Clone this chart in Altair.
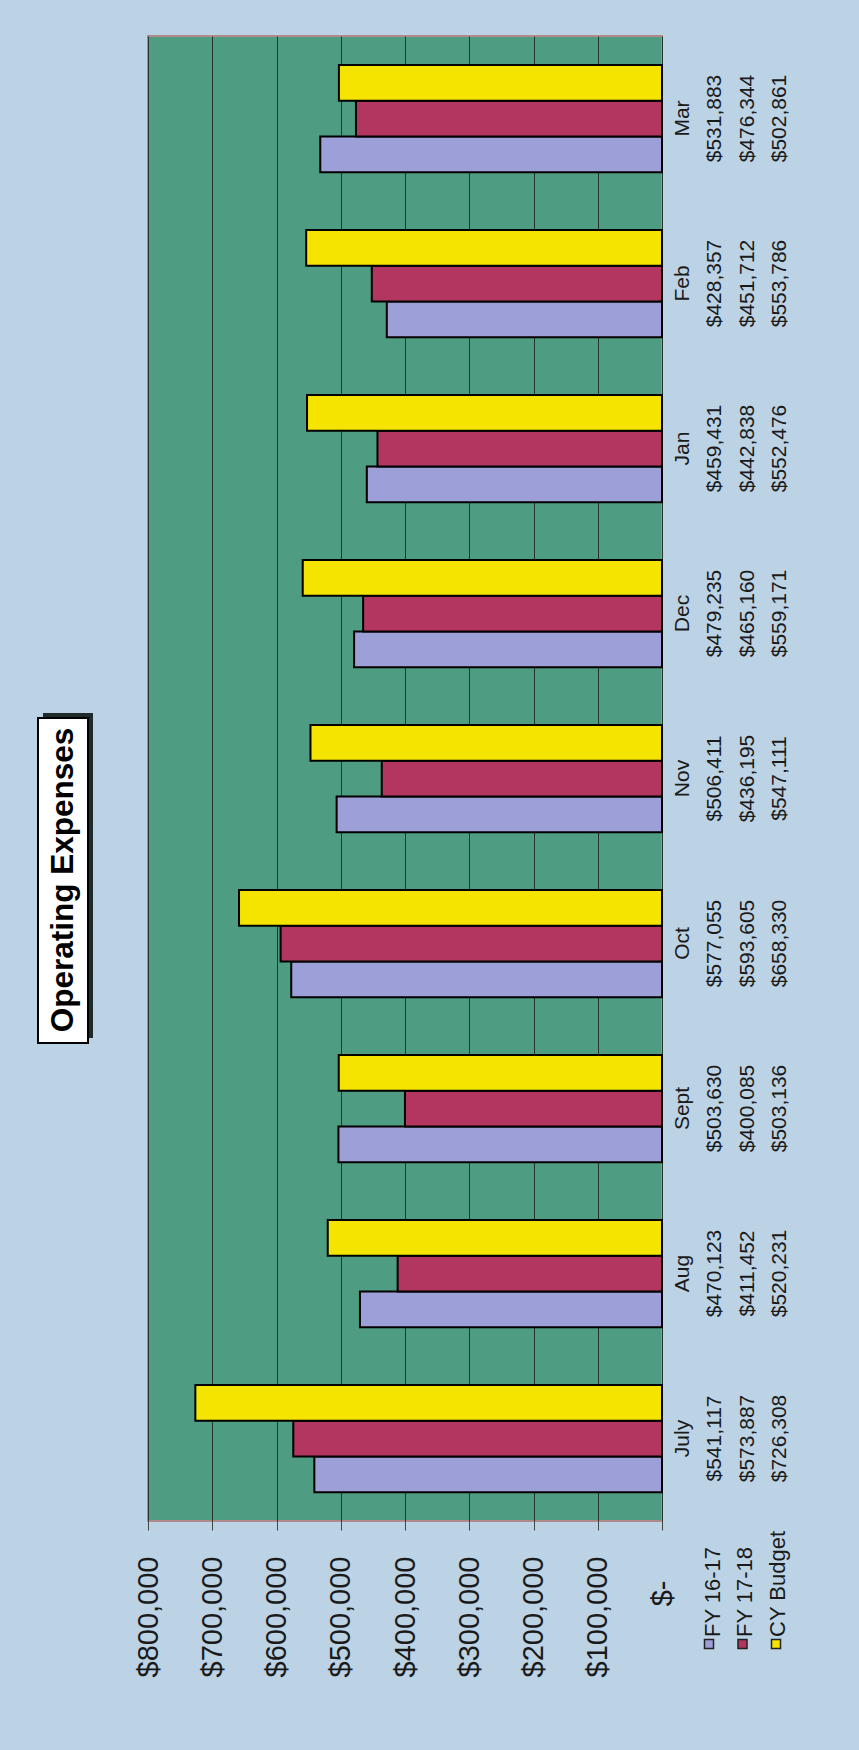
import altair as alt
import pandas as pd

months = ["July", "Aug", "Sept", "Oct", "Nov", "Dec", "Jan", "Feb", "Mar"]
series = ["FY 16-17", "FY 17-18", "CY Budget"]
fy1617 = [541117, 470123, 503630, 577055, 506411, 479235, 459431, 428357, 531883]
fy1718 = [573887, 411452, 400085, 593605, 436195, 465160, 442838, 451712, 476344]
cybudget = [726308, 520231, 503136, 658330, 547111, 559171, 552476, 553786, 502861]
value_ticks = [0, 100000, 200000, 300000, 400000, 500000, 600000, 700000, 800000]
title_text = "Operating Expenses"

colors = ["#9d9fd8", "#b2365f", "#f4e400"]
FONT = "Liberation Sans"


def money(v):
    return "${:,}".format(v)


labels = []
rows = []
for i, m in enumerate(months):
    vals = [fy1617[i], fy1718[i], cybudget[i]]
    lab = "|".join([m] + [money(v) for v in vals])
    labels.append(lab)
    for s, v in zip(series, vals):
        rows.append({"month": m, "label": lab, "series": s, "value": v})
df = pd.DataFrame(rows)

bars = alt.Chart(df).mark_bar(stroke="black", strokeWidth=2).encode(
    x=alt.X(
        "value:Q",
        scale=alt.Scale(domain=[0, 800000], reverse=True, nice=False, zero=True),
        axis=alt.Axis(
            values=value_ticks,
            labelAngle=270,
            labelAlign="right",
            labelBaseline="middle",
            labelFontSize=29,
            labelFont=FONT,
            labelColor="#1a1a1a",
            labelPadding={"condition": {"test": "datum.value == 0", "value": 50}, "value": 26},
            tickSize=9,
            tickColor="#444444",
            grid=True,
            gridColor="#25352d",
            gridWidth=1,
            domain=False,
            labelFlush=False,
            labelOverlap=False,
            labelLimit=400,
            title=None,
            labelExpr="datum.value == 0 ? '$-' : '$' + format(datum.value, ',')",
        ),
    ),
    y=alt.Y(
        "label:N",
        sort=labels[::-1],
        scale=alt.Scale(paddingInner=0.35, paddingOuter=0.175),
        axis=alt.Axis(
            orient="right",
            labelAngle=270,
            labelAlign="center",
            labelBaseline="top",
            labelFontSize=21,
            labelFont=FONT,
            labelColor="#1a1a1a",
            labelLineHeight=32.5,
            labelPadding=9,
            ticks=False,
            domain=False,
            grid=False,
            labelOverlap=False,
            labelLimit=400,
            title=None,
            labelExpr="split(datum.label, '|')",
        ),
    ),
    yOffset=alt.YOffset("series:N", sort=series[::-1]),
    color=alt.Color("series:N", scale=alt.Scale(domain=series, range=colors), legend=None),
)

layers = [bars]

# legend (data-table row headers)
for i, s in enumerate(series):
    one = pd.DataFrame({"name": [s]})
    layers.append(
        alt.Chart(one).mark_square(size=81, stroke="#222222", strokeWidth=1.5, opacity=1, color=colors[i]).encode(
            x=alt.value(561 + 33.5 * i), y=alt.value(1608)
        )
    )
    layers.append(
        alt.Chart(one).mark_text(
            angle=270, align="left", baseline="top", fontSize=22, font=FONT, color="#1a1a1a"
        ).encode(text="name:N", x=alt.value(554.5 + 32.5 * i), y=alt.value(1601))
    )

# title box with shadow
tdf = pd.DataFrame({"t": [title_text]})
layers.append(
    alt.Chart(tdf).mark_rect(color="#1f2a2a").encode(
        x=alt.value(-105), x2=alt.value(-55), y=alt.value(677), y2=alt.value(1002)
    )
)
layers.append(
    alt.Chart(tdf).mark_rect(fill="white", stroke="black", strokeWidth=2).encode(
        x=alt.value(-110), x2=alt.value(-60), y=alt.value(682), y2=alt.value(1007)
    )
)
layers.append(
    alt.Chart(tdf).mark_text(
        angle=270, align="center", baseline="alphabetic", fontSize=31.5, fontWeight="bold", font=FONT, color="black"
    ).encode(text="t:N", x=alt.value(-75), y=alt.value(844))
)

chart = (
    alt.layer(*layers)
    .properties(
        width=514,
        height=1485,
        autosize=alt.AutoSizeParams(type="none"),
        padding={"left": 148, "top": 36, "right": 197, "bottom": 229},
        background="#bcd2e5",
    )
    .configure_view(fill="#4e9d82", stroke="#b08a8a", strokeWidth=2)
)

chart.save("out.html", embed_options={"renderer": "svg", "actions": False})
